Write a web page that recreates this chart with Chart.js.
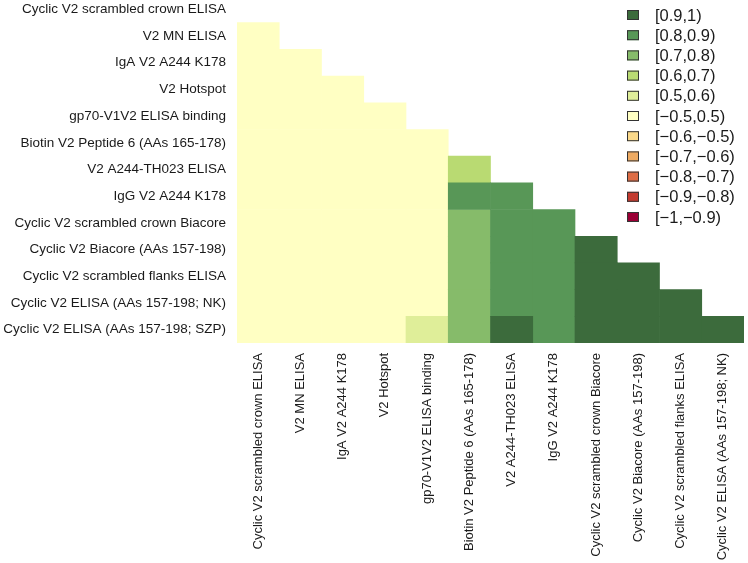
<!DOCTYPE html>
<html>
<head>
<meta charset="utf-8">
<script src="https://cdn.jsdelivr.net/npm/chart.js@4.4.1/dist/chart.umd.min.js"></script>
<style>
  body { margin: 0; background: #fff; }
  #wrap { width: 748px; height: 563px; position: relative; }
</style>
</head>
<body>
<div id="wrap"><canvas id="heat"></canvas></div>
<script>
// row / column names of the correlation matrix
var rowLabels = [
  "Cyclic V2 scrambled crown ELISA",
  "V2 MN ELISA",
  "IgA V2 A244 K178",
  "V2 Hotspot",
  "gp70-V1V2 ELISA binding",
  "Biotin V2 Peptide 6 (AAs 165-178)",
  "V2 A244-TH023 ELISA",
  "IgG V2 A244 K178",
  "Cyclic V2 scrambled crown Biacore",
  "Cyclic V2 Biacore (AAs 157-198)",
  "Cyclic V2 scrambled flanks ELISA",
  "Cyclic V2 ELISA (AAs 157-198; NK)",
  "Cyclic V2 ELISA (AAs 157-198; SZP)"
];
var colLabels = rowLabels.slice(0, 12);

// lower triangle, estimated from the colour bins
var corr = [
  [],
  [0.10],
  [0.10, 0.15],
  [0.10, 0.15, 0.20],
  [0.20, 0.20, 0.20, 0.25],
  [0.20, 0.20, 0.25, 0.25, 0.30],
  [0.20, 0.20, 0.25, 0.25, 0.35, 0.65],
  [0.20, 0.25, 0.25, 0.30, 0.35, 0.85, 0.85],
  [0.20, 0.25, 0.25, 0.30, 0.35, 0.75, 0.85, 0.85],
  [0.20, 0.25, 0.25, 0.30, 0.40, 0.75, 0.85, 0.85, 0.95],
  [0.20, 0.25, 0.25, 0.30, 0.40, 0.75, 0.85, 0.85, 0.95, 0.95],
  [0.20, 0.25, 0.25, 0.30, 0.40, 0.75, 0.85, 0.85, 0.95, 0.95, 0.95],
  [0.20, 0.25, 0.25, 0.30, 0.55, 0.75, 0.92, 0.88, 0.95, 0.95, 0.95, 0.95]
];

// colour bins (legend order)
var binLabels = ["[0.9,1)", "[0.8,0.9)", "[0.7,0.8)", "[0.6,0.7)", "[0.5,0.6)", "[\u22120.5,0.5)",
  "[\u22120.6,\u22120.5)", "[\u22120.7,\u22120.6)", "[\u22120.8,\u22120.7)", "[\u22120.9,\u22120.8)", "[\u22121,\u22120.9)"];
var binLow = [0.9, 0.8, 0.7, 0.6, 0.5, -0.5, -0.6, -0.7, -0.8, -0.9, -1];
var binColors = ["#3c6b3c", "#589757", "#86bb6a", "#b9da72", "#dfee99", "#ffffc3",
  "#fbd98a", "#eeaa62", "#dd6c45", "#c33a2f", "#9a0035"];

function binOf(v) {
  for (var b = 0; b < binLow.length; b++) {
    if (v >= binLow[b]) return b;
  }
  return binLow.length - 1;
}

// one floating-bar dataset per bin
var datasets = binLabels.map(function(lbl, b) {
  return { label: lbl, data: [], backgroundColor: binColors[b], borderWidth: 0,
    barPercentage: 1, categoryPercentage: 1, grouped: false };
});
corr.forEach(function(row, r) {
  row.forEach(function(v, c) {
    datasets[binOf(v)].data.push({ x: [c, c + 1], y: r });
  });
});

Chart.defaults.font.family = "'Liberation Sans', Arial, sans-serif";
Chart.defaults.font.size = 13.5;
Chart.defaults.color = "#1a1a1a";

// legend drawn by hand, top right
var binLegend = {
  id: "binLegend",
  afterDraw: function(chart) {
    var ctx = chart.ctx;
    ctx.save();
    ctx.font = "16.5px 'Liberation Sans', Arial, sans-serif";
    ctx.textBaseline = "middle";
    ctx.textAlign = "left";
    for (var i = 0; i < binLabels.length; i++) {
      var y = 15 + i * 20.2;
      ctx.fillStyle = binColors[i];
      ctx.fillRect(627, y - 5, 12, 10);
      ctx.strokeStyle = "#333";
      ctx.lineWidth = 1;
      ctx.strokeRect(627.5, y - 4.5, 11, 9);
      ctx.fillStyle = "#1a1a1a";
      ctx.fillText(binLabels[i], 655, y + 1);
    }
    ctx.restore();
  }
};

new Chart(document.getElementById("heat"), {
  type: "bar",
  data: { datasets: datasets },
  plugins: [binLegend],
  options: {
    indexAxis: "y",
    responsive: true,
    maintainAspectRatio: false,
    animation: false,
    layout: { padding: { left: 0, right: 4, top: 0, bottom: 0 } },
    plugins: { legend: { display: false }, tooltip: { enabled: false } },
    scales: {
      x: {
        type: "linear", min: 0, max: 12, offset: false,
        grid: { display: false, drawTicks: false, tickLength: 0, offset: false },
        border: { display: false },
        afterBuildTicks: function(scale) {
          scale.ticks = colLabels.map(function(l, i) { return { value: i + 0.5 }; });
        },
        afterFit: function(scale) {
          scale.height = 220;
          scale.paddingLeft = 0; scale.paddingRight = 0;
        },
        ticks: {
          autoSkip: false, minRotation: 90, maxRotation: 90, padding: 10,
          font: { size: 13 },
          callback: function(v) { return colLabels[Math.floor(v)]; }
        }
      },
      y: {
        type: "linear", min: -0.35, max: 12.5, reverse: true, offset: false,
        grid: { display: false, drawTicks: false, tickLength: 0, offset: false },
        border: { display: false },
        afterBuildTicks: function(scale) {
          scale.ticks = rowLabels.map(function(l, i) { return { value: i }; });
        },
        afterFit: function(scale) {
          scale.width = 237;
          scale.paddingTop = 0; scale.paddingBottom = 0;
        },
        ticks: {
          autoSkip: false, padding: 11,
          callback: function(v) { return rowLabels[v]; }
        }
      }
    }
  }
});
</script>
</body>
</html>
